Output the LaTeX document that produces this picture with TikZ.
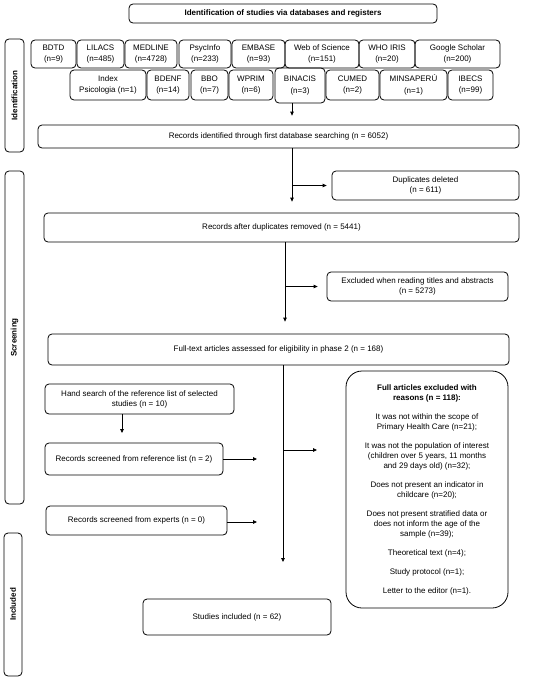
\documentclass[tikz,border=0pt]{standalone}
\usepackage{fontspec}
\setmainfont{Liberation Sans}
\usetikzlibrary{arrows.meta}
\begin{document}
\begin{tikzpicture}[x=1pt,y=-1pt,
  box/.style={draw, line width=0.8pt, rounded corners=4pt, align=center, inner sep=1pt, font=\fontsize{8}{10}\selectfont},
  db/.style={box, font=\fontsize{8}{11.5}\selectfont},
  arr/.style={line width=0.8pt, -{Triangle[length=4pt,width=3.6pt]}},
  side/.style={box, rotate=90, font=\fontsize{8}{10}\selectfont\bfseries},
]
\useasboundingbox (0,0) rectangle (550,680);

% title
\node[box, font=\fontsize{8}{10}\selectfont\bfseries, minimum width=308pt, minimum height=19pt] (title) at (283,13.5) {Identification of studies via databases and registers};

% side labels
\node[side, minimum width=113pt, minimum height=19pt] (lid) at (14.5,95.5) {Identification};
\node[side, minimum width=333pt, minimum height=19pt] (lscr) at (14.5,337.5) {Screening};
\node[side, minimum width=143pt, minimum height=18pt] (linc) at (13,604.5) {Included};

% databases row 1
\node[db, minimum width=45pt, minimum height=28pt] (bdtd) at (53.5,54) {BDTD\\(n=9)};
\node[db, minimum width=47pt, minimum height=28pt] (lilacs) at (100.5,54) {LILACS\\(n=485)};
\node[db, minimum width=52pt, minimum height=28pt] (medline) at (151,54) {MEDLINE\\(n=4728)};
\node[db, minimum width=52pt, minimum height=28pt] (psyc) at (205,54) {PsycInfo\\(n=233)};
\node[db, minimum width=53pt, minimum height=28pt] (embase) at (258.5,54) {EMBASE\\(n=93)};
\node[db, minimum width=74pt, minimum height=28pt] (wos) at (322,54) {Web of Science\\(n=151)};
\node[db, minimum width=56pt, minimum height=28pt] (who) at (387,54) {WHO IRIS\\(n=20)};
\node[db, minimum width=85pt, minimum height=28pt] (gs) at (457.5,54) {Google Scholar\\(n=200)};

% databases row 2
\node[db, minimum width=76pt, minimum height=30pt] (index) at (108,85) {Index\\Psicologia (n=1)};
\node[db, minimum width=42pt, minimum height=30pt] (bdenf) at (168,85) {BDENF\\(n=14)};
\node[db, minimum width=37pt, minimum height=30pt] (bbo) at (209.5,85) {BBO\\(n=7)};
\node[db, minimum width=44pt, minimum height=30pt] (wprim) at (251,85) {WPRIM\\(n=6)};
\node[db, minimum width=50pt, minimum height=35pt] (binacis) at (300,85.5) {BINACIS\\(n=3)};
\node[db, minimum width=53pt, minimum height=30pt] (cumed) at (352.5,85) {CUMED\\(n=2)};
\node[db, minimum width=67pt, minimum height=30pt] (minsa) at (413.5,85) {MINSAPERÚ\\(n=1)};
\node[db, minimum width=45pt, minimum height=30pt] (ibecs) at (470.5,85) {IBECS\\(n=99)};

% main flow
\node[box, minimum width=481pt, minimum height=23pt] (recid) at (278.5,136.5) {Records identified through first database searching (n = 6052)};
\node[box, minimum width=187pt, minimum height=29pt] (dup) at (425.5,185.5) {Duplicates deleted\\(n = 611)};
\node[box, minimum width=475pt, minimum height=29pt] (recafter) at (281.5,227.5) {Records after duplicates removed (n = 5441)};
\node[box, minimum width=181pt, minimum height=29pt] (excl) at (417.5,286.5) {Excluded when reading titles and abstracts\\(n = 5273)};
\node[box, minimum width=461pt, minimum height=31pt] (full) at (278.5,349.5) {Full-text articles assessed for eligibility in phase 2 (n = 168)};
\node[box, rounded corners=16pt, minimum width=162pt, minimum height=237pt] (fae) at (427,489.5) {\textbf{Full articles excluded with}\\\textbf{reasons (n = 118):}\\[9pt]
It was not within the scope of\\Primary Health Care (n=21);\\[9pt]
It was not the population of interest\\(children over 5 years, 11 months\\and 29 days old) (n=32);\\[9pt]
Does not present an indicator in\\childcare (n=20);\\[9pt]
Does not present stratified data or\\does not inform the age of the\\sample (n=39);\\[9pt]
Theoretical text (n=4);\\[9pt]
Study protocol (n=1);\\[9pt]
Letter to the editor (n=1).};
\node[box, minimum width=189pt, minimum height=30pt] (hand) at (139.5,399) {Hand search of the reference list of selected\\studies (n = 10)};
\node[box, minimum width=178pt, minimum height=32pt] (recref) at (134,459) {Records screened from reference list (n = 2)};
\node[box, minimum width=181pt, minimum height=29pt] (expert) at (136.5,520.5) {Records screened from experts (n = 0)};
\node[box, minimum width=188pt, minimum height=36pt] (incl) at (237,617) {Studies included (n = 62)};

% helper coordinates
\coordinate (x1) at (292,0);
\coordinate (x2) at (285,0);
\coordinate (x3) at (283,0);
\coordinate (b3) at (283,450);
\coordinate (e3) at (317,450);
\coordinate (e4) at (283,562);
\coordinate (hs) at (122,414);
\coordinate (he) at (122,433);
\coordinate (e6) at (257,459);
\coordinate (s7) at (227,522);
\coordinate (e7) at (257,522);

% connectors
\draw[arr, shorten >=9pt] (x1 |- binacis.south) -- (x1 |- recid.north);
\draw[arr, shorten >=11pt] (x1 |- recid.south) -- (x1 |- recafter.north);
\draw[arr, shorten >=5pt] (x1 |- dup.west) -- (dup.west);
\draw[arr, shorten >=12pt] (x2 |- recafter.south) -- (x2 |- full.north);
\draw[arr, shorten >=9pt] (x2 |- excl.west) -- (excl.west);
\draw[line width=0.8pt] (x3 |- full.south) -- (b3);
\draw[arr] (b3) -- (e4);
\draw[arr] (b3) -- (e3);
\draw[arr] (hs) -- (he);
\draw[arr] (recref.east) -- (e6);
\draw[arr] (s7) -- (e7);
\end{tikzpicture}
\end{document}
